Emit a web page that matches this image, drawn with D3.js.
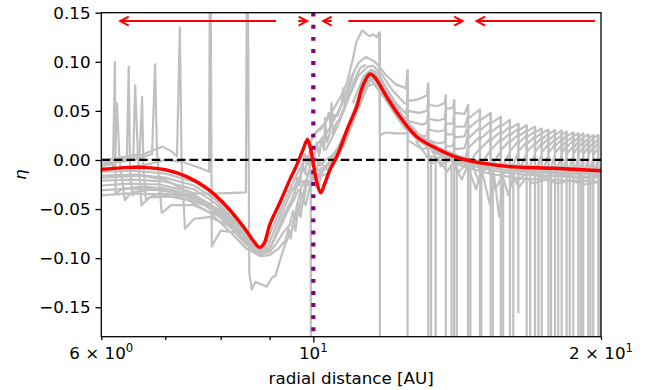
<!DOCTYPE html>
<html>
<head>
<meta charset="utf-8">
<script src="https://cdn.jsdelivr.net/npm/d3@7"></script>
<style>
  body { margin: 0; background: #fff; }
  svg text { font-family: "DejaVu Sans", sans-serif; }
</style>
</head>
<body>
<script>
// axis ticks
var yTicks = [-0.15, -0.10, -0.05, 0.00, 0.05, 0.10, 0.15];
var xTicks = [6, 7, 8, 9, 10, 20];
var xMajor = [10];
var xLabelTicks = [6, 10, 20];
var xLabelMantissa = ["6 × 10", "10", "2 × 10"];
var xLabelExp = ["0", "1", "1"];

// mean eta profile (red)
var meanEta = [[6,-0.0095],[6.3,-0.008],[6.64,-0.0075],[7.02,-0.0102],[7.37,-0.017],[7.74,-0.029],[8.12,-0.0476],[8.45,-0.068],[8.65,-0.082],[8.79,-0.089],[8.88,-0.085],[9.01,-0.065],[9.23,-0.043],[9.45,-0.020],[9.61,-0.005],[9.75,0.010],[9.86,0.021],[9.93,0.012],[10.0,-0.004],[10.08,-0.022],[10.18,-0.0335],[10.27,-0.025],[10.41,-0.010],[10.58,0.0033],[10.88,0.034],[11.1,0.054],[11.26,0.075],[11.46,0.0876],[11.6,0.084],[11.93,0.0645],[12.32,0.044],[12.83,0.0237],[13.57,0.010],[14.24,0.0017],[15.19,-0.004],[16.19,-0.007],[17.83,-0.0085],[20,-0.011]];

// individual snapshots (grey)
var bundle1 = [[6,-0.012],[6.5,-0.011],[7.0,-0.014],[7.5,-0.022],[7.9,-0.036],[8.2,-0.054],[8.5,-0.076],[8.75,-0.089],[8.9,-0.088],[9.0,-0.076],[9.23,-0.052],[9.45,-0.030],[9.62,-0.014],[9.75,-0.004],[9.85,0.004],[9.95,-0.004],[10.05,0.002],[10.15,-0.006],[10.3,0.000],[10.45,0.004],[10.65,0.014],[10.85,0.030],[11.1,0.056],[11.3,0.080],[11.45,0.090],[11.6,0.088],[11.9,0.070],[12.3,0.047],[12.8,0.027],[13.5,0.013],[14.2,0.004],[15.0,-0.002],[16.0,-0.005],[17.5,-0.007],[20,-0.009]];
var bundle2 = [[6,-0.016],[6.5,-0.015],[7.0,-0.018],[7.5,-0.026],[7.9,-0.040],[8.2,-0.058],[8.5,-0.079],[8.8,-0.091],[8.95,-0.089],[9.05,-0.078],[9.25,-0.056],[9.5,-0.031],[9.65,-0.020],[9.75,-0.008],[9.85,-0.016],[9.95,-0.004],[10.05,-0.010],[10.15,-0.002],[10.3,-0.008],[10.45,0.000],[10.7,0.018],[11.0,0.046],[11.25,0.074],[11.45,0.088],[11.65,0.085],[12.0,0.063],[12.4,0.042],[12.9,0.024],[13.6,0.010],[14.3,0.002],[15.2,-0.004],[16.2,-0.007],[18,-0.009],[20,-0.011]];
var bundle3 = [[6,-0.021],[6.5,-0.020],[7.0,-0.022],[7.5,-0.030],[7.9,-0.044],[8.25,-0.063],[8.55,-0.083],[8.85,-0.093],[9.0,-0.090],[9.1,-0.080],[9.3,-0.057],[9.5,-0.040],[9.6,-0.028],[9.7,-0.020],[9.8,-0.026],[9.9,-0.012],[10.0,-0.020],[10.1,-0.008],[10.2,-0.014],[10.35,-0.004],[10.5,0.004],[10.8,0.028],[11.05,0.052],[11.3,0.080],[11.5,0.092],[11.7,0.088],[12.0,0.068],[12.4,0.045],[12.9,0.026],[13.6,0.011],[14.4,0.001],[15.4,-0.006],[16.5,-0.010],[18.3,-0.012],[20,-0.013]];
var bundle4 = [[6,-0.026],[6.4,-0.024],[6.9,-0.025],[7.4,-0.032],[7.8,-0.045],[8.2,-0.066],[8.5,-0.084],[8.8,-0.094],[9.0,-0.091],[9.2,-0.072],[9.4,-0.052],[9.55,-0.040],[9.65,-0.030],[9.75,-0.036],[9.85,-0.020],[9.95,-0.026],[10.05,-0.012],[10.15,-0.018],[10.3,-0.006],[10.5,-0.002],[10.75,0.020],[11.0,0.044],[11.25,0.070],[11.45,0.084],[11.65,0.082],[11.95,0.062],[12.35,0.041],[12.85,0.022],[13.5,0.008],[14.3,-0.001],[15.3,-0.008],[16.5,-0.012],[18.5,-0.014],[20,-0.015]];
var bundle5 = [[6,-0.031],[6.4,-0.029],[6.9,-0.030],[7.4,-0.036],[7.8,-0.049],[8.2,-0.069],[8.5,-0.086],[8.78,-0.096],[9.0,-0.094],[9.15,-0.085],[9.3,-0.074],[9.45,-0.066],[9.52,-0.052],[9.56,-0.062],[9.62,-0.044],[9.66,-0.056],[9.72,-0.034],[9.78,-0.040],[9.85,-0.022],[9.92,-0.028],[10.0,-0.014],[10.1,-0.020],[10.2,-0.008],[10.35,-0.010],[10.5,0.000],[10.75,0.016],[11.0,0.040],[11.25,0.066],[11.5,0.083],[11.7,0.080],[12.0,0.060],[12.4,0.038],[12.9,0.020],[13.6,0.006],[14.4,-0.004],[15.4,-0.011],[16.6,-0.015],[18.5,-0.017],[20,-0.018]];
var bundle6 = [[6,-0.036],[6.4,-0.034],[6.9,-0.035],[7.4,-0.041],[7.8,-0.054],[8.2,-0.074],[8.5,-0.090],[8.8,-0.098],[9.0,-0.097],[9.2,-0.090],[9.35,-0.082],[9.42,-0.070],[9.47,-0.080],[9.53,-0.062],[9.58,-0.072],[9.64,-0.050],[9.7,-0.058],[9.76,-0.040],[9.82,-0.046],[9.9,-0.030],[10.0,-0.024],[10.1,-0.028],[10.2,-0.016],[10.35,-0.014],[10.5,-0.004],[10.8,0.018],[11.1,0.048],[11.4,0.075],[11.6,0.078],[11.9,0.062],[12.3,0.040],[12.8,0.022],[13.5,0.006],[14.3,-0.006],[15.3,-0.014],[16.5,-0.019],[18.5,-0.021],[20,-0.022]];

var jump1 = [[6,-0.012],[6.17,-0.010],[6.20,0.100],[6.21,-0.034],[6.3,-0.030],[6.6,-0.027],[7.0,-0.029],[7.5,-0.036],[8.0,-0.052],[8.4,-0.074]];
var jump2 = [[6,-0.006],[6.2,-0.004],[6.23,0.058],[6.27,0.0],[6.35,-0.041],[6.45,-0.033],[6.8,-0.030],[7.3,-0.034],[7.8,-0.046],[8.2,-0.064]];
var jump3 = [[6,-0.003],[6.38,-0.001],[6.41,0.095],[6.43,-0.010],[6.47,-0.036],[6.6,-0.030],[7.0,-0.031],[7.5,-0.039],[8.0,-0.056]];
var jump4 = [[6,0.000],[6.48,0.002],[6.51,0.076],[6.55,0.010],[6.61,-0.046],[6.75,-0.038],[7.2,-0.037],[7.7,-0.046],[8.1,-0.062]];
var jump5 = [[6,-0.001],[6.58,0.006],[6.62,0.064],[6.64,-0.005],[6.68,-0.040],[6.9,-0.034],[7.3,-0.036],[7.8,-0.048]];
var jump6 = [[6,-0.004],[6.5,0.0],[6.78,0.006],[6.83,0.0975],[6.86,0.010],[6.94,-0.054],[7.1,-0.046],[7.5,-0.046],[8.0,-0.058],[8.4,-0.076]];
var jump7 = [[6,-0.006],[6.5,0.002],[6.8,0.010],[6.95,0.0136],[7.1,0.009],[7.2,0.004],[7.25,0.135],[7.28,0.0],[7.34,-0.070],[7.5,-0.060],[7.8,-0.058],[8.2,-0.068],[8.6,-0.086]];
var jump8 = [[6,-0.010],[6.6,-0.006],[7.0,0.0],[7.3,-0.002],[7.6,-0.008],[7.78,-0.012],[7.80,0.3],[7.83,-0.088],[8.0,-0.072],[8.3,-0.074],[8.6,-0.086],[8.8,-0.094],[9.0,-0.092]];
var jump9 = [[6,-0.018],[6.6,-0.016],[7.0,-0.020],[7.3,-0.030],[7.5,-0.034],[8.0,-0.034],[8.5,-0.033],[8.53,0.3],[8.57,-0.115],[8.62,-0.132],[8.7,-0.124],[8.79,-0.126],[8.94,-0.129],[9.05,-0.12],[9.13,-0.118],[9.23,-0.102],[9.35,-0.085],[9.5,-0.071],[9.6,-0.05],[9.7,-0.03],[9.8,-0.02]];

var mid1 = [[9.55,-0.035],[9.62,-0.018],[9.68,-0.026],[9.74,-0.004],[9.8,-0.014],[9.86,0.004],[9.9,-0.006],[9.96,0.012],[10.02,0.0],[10.08,0.018],[10.14,0.004],[10.2,0.022],[10.26,0.010],[10.29,0.043],[10.33,0.018],[10.4,0.026],[10.45,0.058],[10.48,0.026],[10.55,0.036],[10.65,0.042],[10.8,0.056],[11.0,0.078],[11.2,0.094],[11.35,0.097]];
var mid2 = [[9.7,-0.010],[9.8,0.006],[9.88,-0.004],[9.94,0.018],[10.0,0.026],[10.1,0.030],[10.2,0.034],[10.3,0.038],[10.38,0.048],[10.42,0.036],[10.5,0.046],[10.6,0.045],[10.7,0.056],[10.75,0.073],[10.78,0.056],[10.9,0.074],[11.05,0.092]];
var upper1 = [[9.95,0.024],[10.2,0.032],[10.49,0.051],[10.7,0.066],[10.84,0.078],[10.97,0.098],[11.1,0.121],[11.25,0.132],[11.35,0.129],[11.45,0.126],[11.55,0.128],[11.65,0.125],[11.72,0.130],[11.74,0.025],[11.9,0.028],[12.2,0.027],[12.52,0.027]];
var noisy1 = [[12.8,0.02],[13.1,0.006],[13.3,-0.004],[13.5,0.002],[13.8,-0.012],[14.0,-0.003],[14.3,-0.020],[14.5,-0.006],[14.8,-0.030],[15.0,-0.010],[15.3,-0.045],[15.45,-0.014],[15.65,-0.058],[15.8,-0.018],[16.0,-0.036],[16.2,-0.016],[16.4,-0.028],[16.7,-0.018],[17.0,-0.024],[17.5,-0.020],[18.0,-0.024],[18.6,-0.021],[19.2,-0.025],[20,-0.022]];
var noisy2 = [[13.3,0.01],[13.6,-0.006],[13.9,0.004],[14.2,-0.012],[14.6,0.0],[14.9,-0.022],[15.2,-0.004],[15.5,-0.030],[15.9,-0.010],[16.3,-0.022],[16.8,-0.012],[17.4,-0.018],[18.2,-0.014],[19.0,-0.019],[20,-0.016]];

// outer part: snapshot heads, then shared jump positions
var tailHead1 = [[10.1,0.016],[10.4,0.032],[10.7,0.056],[10.95,0.084],[11.15,0.099],[11.35,0.105],[11.6,0.100],[11.9,0.087],[12.2,0.077],[12.5,0.073],[12.55,0.0916],[12.56,0.060],[12.9,0.062],[13.15,0.066],[13.19,0.078],[13.2,0.056],[13.5,0.055],[13.72,0.058],[13.76,0.066],[13.77,0.052],[14.0,0.053],[14.04,0.061],[14.05,0.048],[14.4,0.047]];
var tailHead2 = [[10.3,0.010],[10.6,0.034],[10.9,0.064],[11.15,0.086],[11.4,0.095],[11.55,0.096],[11.8,0.087],[12.1,0.071],[12.45,0.058],[12.53,0.057],[12.55,0.072],[12.56,0.050],[12.9,0.048],[13.15,0.050],[13.19,0.060],[13.2,0.042],[13.5,0.040],[13.72,0.042],[13.76,0.052],[13.77,0.037],[14.0,0.037],[14.04,0.047],[14.05,0.034],[14.4,0.034]];
var tailHead3 = [[11.0,0.058],[11.3,0.086],[11.5,0.092],[11.8,0.080],[12.2,0.058],[12.5,0.047],[12.55,0.058],[12.56,0.040],[13.0,0.036],[13.15,0.038],[13.19,0.048],[13.2,0.031],[13.5,0.029],[13.72,0.030],[13.76,0.040],[13.77,0.026],[14.0,0.026],[14.04,0.035],[14.05,0.023],[14.4,0.024]];
var tailHead4 = [[11.45,0.089],[11.9,0.068],[12.3,0.048],[12.5,0.039],[12.55,0.048],[12.56,0.031],[13.0,0.024],[13.15,0.025],[13.19,0.035],[13.2,0.020],[13.5,0.017],[13.72,0.018],[13.76,0.028],[13.77,0.014],[14.0,0.014],[14.04,0.022],[14.05,0.011],[14.4,0.012]];
var tailHead5 = [[11.4,0.086],[11.9,0.062],[12.3,0.041],[12.5,0.031],[12.55,0.036],[12.56,0.020],[13.0,0.011],[13.15,0.012],[13.19,0.021],[13.2,0.004],[13.5,0.002],[13.72,0.004],[13.76,0.013],[13.77,-0.002],[14.0,0.000],[14.04,0.010],[14.05,-0.004],[14.4,-0.003]];

var tailX = [14.52, 14.94, 15.33, 15.71, 16.06, 16.39, 16.72, 17.06, 17.34, 17.62, 17.90, 18.19, 18.41, 18.71, 18.94, 19.16, 19.40, 19.63, 19.87];
var tailPeak1 = [0.056, 0.0516, 0.048, 0.044, 0.0407, 0.037, 0.0356, 0.034, 0.032, 0.031, 0.0305, 0.030, 0.029, 0.028, 0.0272, 0.027, 0.026, 0.0254, 0.0254];
var tailLow1 = [0.042, 0.040, 0.037, 0.034, 0.032, 0.030, 0.029, 0.028, 0.027, 0.026, 0.0255, 0.025, 0.024, 0.024, 0.023, 0.023, 0.022, 0.022, 0.021];
var tailPeak2 = [0.045, 0.042, 0.039, 0.036, 0.034, 0.032, 0.030, 0.029, 0.028, 0.027, 0.026, 0.025, 0.025, 0.024, 0.023, 0.023, 0.022, 0.022, 0.021];
var tailLow2 = [0.032, 0.030, 0.028, 0.026, 0.025, 0.024, 0.023, 0.022, 0.021, 0.020, 0.020, 0.019, 0.019, 0.018, 0.018, 0.017, 0.017, 0.016, 0.016];
var tailPeak3 = [0.036, 0.033, 0.031, 0.029, 0.027, 0.026, 0.025, 0.024, 0.023, 0.022, 0.021, 0.021, 0.020, 0.020, 0.019, 0.019, 0.018, 0.018, 0.017];
var tailLow3 = [0.022, 0.021, 0.020, 0.019, 0.018, 0.017, 0.016, 0.015, 0.015, 0.014, 0.014, 0.013, 0.013, 0.012, 0.012, 0.012, 0.011, 0.011, 0.011];
var tailPeak4 = [0.026, 0.024, 0.022, 0.021, 0.020, 0.019, 0.018, 0.017, 0.017, 0.016, 0.016, 0.015, 0.015, 0.014, 0.014, 0.013, 0.013, 0.013, 0.012];
var tailLow4 = [0.012, 0.011, 0.010, 0.010, 0.009, 0.009, 0.008, 0.008, 0.008, 0.007, 0.007, 0.007, 0.006, 0.006, 0.006, 0.006, 0.005, 0.005, 0.005];
var tailPeak5 = [0.014, 0.012, 0.010, 0.009, 0.008, 0.008, 0.007, 0.006, 0.006, 0.005, 0.005, 0.005, 0.004, 0.004, 0.004, 0.003, 0.003, 0.003, 0.003];
var tailLow5 = [-0.004, -0.006, -0.008, -0.010, -0.012, -0.013, -0.014, -0.015, -0.015, -0.016, -0.016, -0.017, -0.017, -0.018, -0.018, -0.018, -0.019, -0.019, -0.019];

// vertical plunges below the frame
var dropX = [9.94, 11.74, 12.55, 13.19, 13.28, 13.43, 13.76, 13.95, 14.04, 14.13, 14.52, 14.60, 14.94, 14.99, 15.33, 15.41, 15.71, 15.80, 16.06, 16.19, 16.39, 16.72, 16.86, 17.06, 17.20, 17.34, 17.62, 17.73, 17.90, 18.04, 18.19, 18.41, 18.55, 18.71, 18.94, 19.05, 19.16, 19.40, 19.50, 19.63, 19.87, 19.96];
var dropTop = [-0.010, 0.130, 0.0916, 0.078, 0.004, 0.000, 0.066, -0.004, 0.061, 0.000, 0.056, -0.006, 0.0516, -0.008, 0.048, -0.010, 0.044, -0.010, 0.0407, -0.008, 0.037, 0.0356, -0.008, 0.034, -0.010, 0.032, 0.031, -0.010, 0.0305, -0.010, 0.030, 0.029, -0.012, 0.028, 0.0272, -0.012, 0.027, 0.026, -0.012, 0.0254, 0.0254, -0.012];
var dropBottom = [-0.2, -0.2, -0.2, -0.2, -0.2, -0.2, -0.2, -0.2, -0.2, -0.2, -0.2, -0.2, -0.2, -0.2, -0.2, -0.2, -0.2, -0.2, -0.2, -0.2, -0.156, -0.2, -0.2, -0.2, -0.2, -0.2, -0.2, -0.2, -0.2, -0.2, -0.2, -0.2, -0.2, -0.2, -0.2, -0.2, -0.2, -0.2, -0.2, -0.2, -0.2, -0.2];

// drift direction arrows
var arrowTail = [9.14, 9.64, 10.45, 10.88, 19.71];
var arrowHead = [6.28, 9.85, 10.24, 14.33, 14.82];
var arrowLevel = 0.1415;
var planetR = 10;

var fontSize = "16.7px";
var fontFamily = "DejaVu Sans";

var margin = {top: 12.7, right: 48, bottom: 53.3, left: 101.3},
  width = 649 - margin.left - margin.right,
  height = 390 - margin.top - margin.bottom;

var x = d3.scaleLog().domain([6, 20]).range([0, width]);
var y = d3.scaleLinear().domain([-0.18, 0.15]).range([height, 0]);

var svg = d3.select("body").append("svg")
  .attr("width", 649)
  .attr("height", 390);

var g = svg.append("g")
  .attr("transform", "translate(" + margin.left + "," + margin.top + ")");

g.append("clipPath").attr("id", "plotclip")
  .append("rect").attr("width", width).attr("height", height);

var plot = g.append("g").attr("clip-path", "url(#plotclip)");

var line = d3.line()
  .x(function(d) { return x(d[0]); })
  .y(function(d) { return y(d[1]); });

function sawtooth(head, peaks, lows) {
  var pts = head.slice();
  tailX.forEach(function(tx, i) {
    pts.push([tx, peaks[i]], [tx, lows[i]]);
  });
  return pts;
}

var grayRuns = [bundle1, bundle2, bundle3, bundle4, bundle5, bundle6,
  jump1, jump2, jump3, jump4, jump5, jump6, jump7, jump8, jump9,
  mid1, mid2, upper1, noisy1, noisy2,
  sawtooth(tailHead1, tailPeak1, tailLow1),
  sawtooth(tailHead2, tailPeak2, tailLow2),
  sawtooth(tailHead3, tailPeak3, tailLow3),
  sawtooth(tailHead4, tailPeak4, tailLow4),
  sawtooth(tailHead5, tailPeak5, tailLow5)];

plot.selectAll("path.run")
  .data(grayRuns)
  .enter().append("path")
  .attr("class", "run")
  .attr("d", line)
  .attr("fill", "none")
  .attr("stroke", "#c0c0c0")
  .attr("stroke-width", 2.2)
  .attr("stroke-linejoin", "round");

plot.selectAll("line.drop")
  .data(dropX)
  .enter().append("line")
  .attr("class", "drop")
  .attr("x1", function(d) { return x(d); })
  .attr("x2", function(d) { return x(d); })
  .attr("y1", function(d, i) { return y(dropTop[i]); })
  .attr("y2", function(d, i) { return y(dropBottom[i]); })
  .attr("stroke", "#c0c0c0")
  .attr("stroke-width", 2.2);

// eta = 0
plot.append("line")
  .attr("x1", 0).attr("x2", width)
  .attr("y1", y(0)).attr("y2", y(0))
  .attr("stroke", "#000")
  .attr("stroke-width", 2.3)
  .attr("stroke-dasharray", "8.6,4");

// planet location
plot.append("line")
  .attr("x1", x(planetR)).attr("x2", x(planetR))
  .attr("y1", 0).attr("y2", height)
  .attr("stroke", "#800080")
  .attr("stroke-width", 4.2)
  .attr("stroke-dasharray", "3.9,8.2");

plot.append("path")
  .datum(meanEta)
  .attr("d", line.curve(d3.curveCatmullRom.alpha(0.5)))
  .attr("fill", "none")
  .attr("stroke", "#ff0000")
  .attr("stroke-width", 3.4);
line.curve(d3.curveLinear);

var arrows = g.append("g").attr("class", "arrows");
arrowTail.forEach(function(t, i) {
  var x0 = x(t), x1 = x(arrowHead[i]), ya = y(arrowLevel);
  var s = x1 > x0 ? 1 : -1;
  arrows.append("line")
    .attr("x1", x0).attr("x2", x1).attr("y1", ya).attr("y2", ya)
    .attr("stroke", "#ff0000").attr("stroke-width", 2);
  arrows.append("path")
    .attr("d", "M" + (x1 - s * 8.5) + "," + (ya - 4.5) + "L" + x1 + "," + ya + "L" + (x1 - s * 8.5) + "," + (ya + 4.5))
    .attr("fill", "none")
    .attr("stroke", "#ff0000").attr("stroke-width", 2);
});

// axes
var yAxis = d3.axisLeft(y)
  .tickValues(yTicks)
  .tickSize(5.8)
  .tickPadding(5)
  .tickFormat(d3.format(".2f"));

var yg = g.append("g").call(yAxis)
  .attr("font-family", fontFamily)
  .attr("font-size", fontSize);
yg.select(".domain").remove();
yg.selectAll("text").attr("fill", "#000");
yg.selectAll(".tick line").attr("stroke-width", 1.3);

var xAxis = d3.axisBottom(x)
  .tickValues(xTicks)
  .tickSize(5.8)
  .tickFormat("");

var xg = g.append("g")
  .attr("transform", "translate(0," + height + ")")
  .call(xAxis)
  .attr("font-family", fontFamily)
  .attr("font-size", fontSize);
xg.select(".domain").remove();
xg.selectAll(".tick line")
  .attr("stroke-width", 1.3)
  .attr("y2", function(d) { return xMajor.indexOf(d) >= 0 ? 5.8 : 3.3; });

xLabelTicks.forEach(function(v, i) {
  var t = xg.append("text")
    .attr("x", x(v))
    .attr("y", 22)
    .attr("text-anchor", "middle")
    .attr("fill", "#000");
  t.append("tspan").text(xLabelMantissa[i]);
  t.append("tspan").attr("dy", -6.5).attr("font-size", "11.7px").text(xLabelExp[i]);
});

g.append("rect")
  .attr("width", width)
  .attr("height", height)
  .attr("fill", "none")
  .attr("stroke", "#000")
  .attr("stroke-width", 1.3);

svg.append("text")
  .attr("x", margin.left + width / 2)
  .attr("y", 384)
  .attr("text-anchor", "middle")
  .attr("font-size", fontSize)
  .text("radial distance [AU]");

svg.append("text")
  .attr("transform", "translate(26," + (margin.top + height / 2) + ") rotate(-90)")
  .attr("text-anchor", "middle")
  .attr("font-size", fontSize)
  .attr("font-style", "italic")
  .text("η");
</script>
</body>
</html>
